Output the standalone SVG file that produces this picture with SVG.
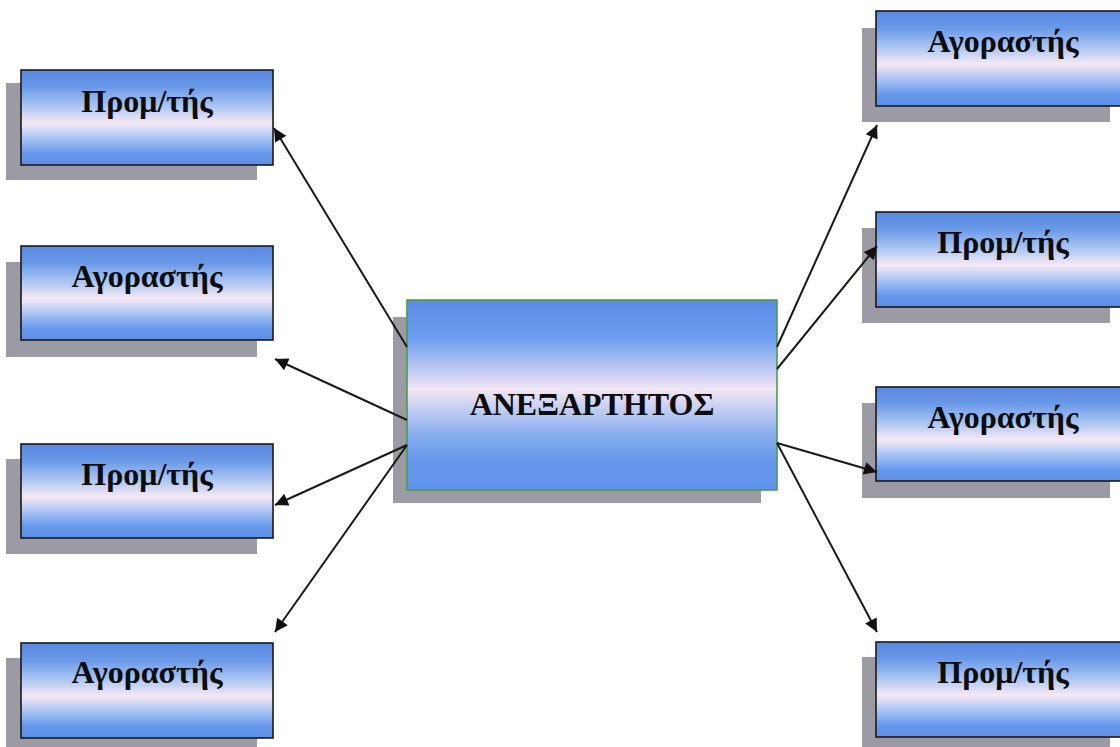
<svg xmlns="http://www.w3.org/2000/svg" width="1120" height="747" viewBox="0 0 1120 747">
<defs>
<linearGradient id="gs" x1="0" y1="0" x2="0" y2="1">
<stop offset="0" stop-color="#5888e0"/>
<stop offset="0.18" stop-color="#6a99e8"/>
<stop offset="0.38" stop-color="#aac5f2"/>
<stop offset="0.56" stop-color="#f6e8f4"/>
<stop offset="0.72" stop-color="#a8c4f4"/>
<stop offset="0.88" stop-color="#6598ec"/>
<stop offset="1" stop-color="#5c8ee6"/>
</linearGradient>
<linearGradient id="gc" x1="0" y1="0" x2="0" y2="1">
<stop offset="0" stop-color="#5b8be6"/>
<stop offset="0.2" stop-color="#6c9cee"/>
<stop offset="0.47" stop-color="#f2e6f4"/>
<stop offset="0.7" stop-color="#8cb0f0"/>
<stop offset="0.85" stop-color="#6496ec"/>
<stop offset="1" stop-color="#6094ea"/>
</linearGradient>
<marker id="ah" viewBox="0 0 10 10" refX="10" refY="5" markerWidth="17" markerHeight="13" orient="auto" markerUnits="userSpaceOnUse">
<path d="M0,0 L10,5 L0,10 z" fill="#111"/>
</marker>
</defs>
<style>
.sh{fill:#9c9aa2}
.bx{fill:url(#gs);stroke:#1a1a1a;stroke-width:1.6}
.cb{fill:url(#gc);stroke:#4f9a4f;stroke-width:1.6}
.t{font-family:"Liberation Serif","Times New Roman",serif;font-weight:bold;font-size:32px;fill:#0d0d0d;text-anchor:middle}
.c{stroke:#1a1a1a;stroke-width:2;fill:none;marker-end:url(#ah)}
</style>
<rect width="1120" height="747" fill="#ffffff"/>

<g id="left1">
<rect class="sh" x="6" y="83" width="251" height="97"/>
<rect class="bx" x="21" y="70" width="252" height="95"/>
<text class="t" x="147" y="112">Προμ/τής</text>
</g>
<g id="left2">
<rect class="sh" x="6" y="262" width="251" height="95"/>
<rect class="bx" x="21" y="246" width="252" height="94"/>
<text class="t" x="147" y="287">Αγοραστής</text>
</g>
<g id="left3">
<rect class="sh" x="6" y="459" width="251" height="95"/>
<rect class="bx" x="21" y="444" width="252" height="94"/>
<text class="t" x="147" y="485">Προμ/τής</text>
</g>
<g id="left4">
<rect class="sh" x="6" y="658" width="251" height="95"/>
<rect class="bx" x="21" y="643" width="252" height="95"/>
<text class="t" x="147" y="683">Αγοραστής</text>
</g>

<g id="right1">
<rect class="sh" x="862" y="28" width="248" height="94"/>
<rect class="bx" x="876" y="11" width="252" height="95"/>
<text class="t" x="1003" y="52">Αγοραστής</text>
</g>
<g id="right2">
<rect class="sh" x="862" y="228" width="248" height="95"/>
<rect class="bx" x="876" y="212" width="252" height="95"/>
<text class="t" x="1003" y="253">Προμ/τής</text>
</g>
<g id="right3">
<rect class="sh" x="862" y="403" width="248" height="95"/>
<rect class="bx" x="876" y="387" width="252" height="94"/>
<text class="t" x="1003" y="428">Αγοραστής</text>
</g>
<g id="right4">
<rect class="sh" x="862" y="657" width="248" height="95"/>
<rect class="bx" x="876" y="642" width="252" height="95"/>
<text class="t" x="1003" y="683">Προμ/τής</text>
</g>

<g id="center">
<rect class="sh" x="393" y="317" width="368" height="186"/>
<rect class="cb" x="407" y="300" width="370" height="190"/>
<text class="t" x="592" y="415">ΑΝΕΞΑΡΤΗΤΟΣ</text>
</g>

<g id="connectors">
<line class="c" x1="407" y1="347" x2="274" y2="128"/>
<line class="c" x1="407" y1="420" x2="275" y2="359"/>
<line class="c" x1="407" y1="445" x2="275" y2="505"/>
<line class="c" x1="407" y1="445" x2="275" y2="632"/>
<line class="c" x1="777" y1="347" x2="877" y2="125"/>
<line class="c" x1="777" y1="369" x2="877" y2="246"/>
<line class="c" x1="777" y1="443" x2="877" y2="472"/>
<line class="c" x1="777" y1="443" x2="877" y2="632"/>
</g>
</svg>
